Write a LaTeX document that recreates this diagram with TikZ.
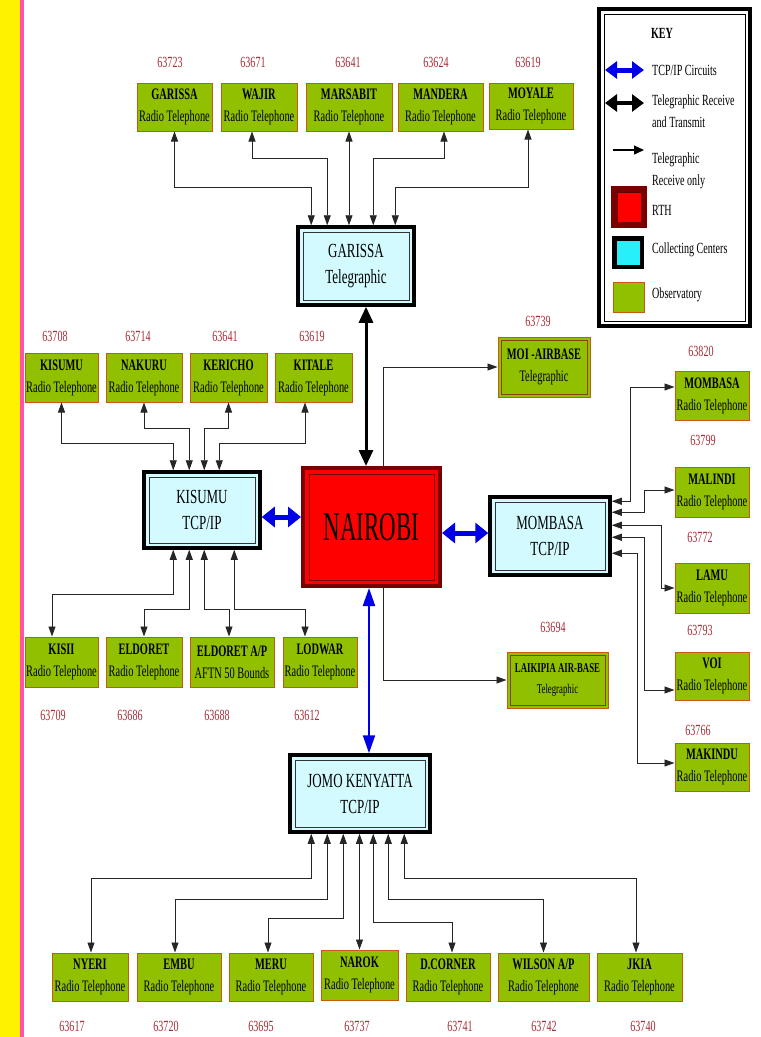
\documentclass[tikz,border=0pt]{standalone}
\usepackage{fontspec}
\setmainfont{Liberation Serif}
\newfontfamily\cond[FakeStretch=0.65]{Liberation Serif}
\newfontfamily\condN[FakeStretch=0.56]{Liberation Serif}
\usetikzlibrary{arrows.meta,calc}
\definecolor{obsgreen}{RGB}{145,192,0}
\definecolor{obsborder}{RGB}{200,90,20}
\definecolor{ccfill}{RGB}{210,250,255}
\definecolor{cckey}{RGB}{40,240,250}
\definecolor{rthdark}{RGB}{120,0,0}
\definecolor{labred}{RGB}{165,45,55}
\definecolor{linkblue}{RGB}{0,0,230}
\definecolor{pinkline}{RGB}{255,80,170}
\tikzset{
  obs/.style={draw=obsborder, fill=obsgreen, line width=1pt, inner sep=0pt, align=center,
    font=\cond\fontsize{16}{22}\selectfont},
  obsdbl/.style={obs, path picture={\draw[obsborder!70!black, line width=0.7pt]
    ([shift={(3pt,-3pt)}]path picture bounding box.north west) rectangle
    ([shift={(-3pt,3pt)}]path picture bounding box.south east);}},
  cc/.style={draw=black, fill=ccfill, line width=3.5pt, inner sep=0pt, align=center,
    font=\cond\fontsize{20}{26}\selectfont,
    path picture={\draw[black!80, line width=0.8pt]
    ([shift={(5pt,-5pt)}]path picture bounding box.north west) rectangle
    ([shift={(-5pt,5pt)}]path picture bounding box.south east);}},
  rth/.style={draw=rthdark, fill=red, line width=4pt, inner sep=0pt, align=center,
    path picture={\draw[rthdark, line width=1pt]
    ([shift={(6pt,-6pt)}]path picture bounding box.north west) rectangle
    ([shift={(-6pt,6pt)}]path picture bounding box.south east);}},
  lab/.style={text=labred, inner sep=0pt, font=\cond\fontsize{15.5}{17}\selectfont},
  keytext/.style={inner sep=0pt, anchor=west, align=left, font=\cond\fontsize{15.5}{22}\selectfont},
  conn/.style={draw=black!85, line width=0.9pt},
  both/.style={conn, {Triangle[length=10pt,width=7pt]}-{Triangle[length=10pt,width=7pt]}},
  recv/.style={conn, -{Triangle[length=10pt,width=7pt]}},
  bluethick/.style={draw=linkblue, line width=5pt, {Triangle[length=13pt,width=20pt]}-{Triangle[length=13pt,width=20pt]}},
  bluethin/.style={draw=linkblue, line width=2pt, {Triangle[length=18pt,width=12pt]}-{Triangle[length=18pt,width=12pt]}},
  blackthick/.style={draw=black, line width=3pt, {Triangle[length=16pt,width=14pt]}-{Triangle[length=16pt,width=14pt]}},
}
\begin{document}
\begin{tikzpicture}[x=1pt,y=-1pt]
\useasboundingbox (0,0) rectangle (761,1037);
\fill[white] (0,0) rectangle (761,1037);
\fill[yellow] (0,0) rectangle (20,1037);
\fill[pinkline] (20,0) rectangle (24,1037);

% ---------- top row (Garissa collecting) ----------
\node[obs, minimum width=75pt, minimum height=48pt] (garR) at (174.5,107) {\textbf{GARISSA}\\Radio Telephone};
\node[obs, minimum width=76pt, minimum height=48pt] (wajR) at (259,107) {\textbf{WAJIR}\\Radio Telephone};
\node[obs, minimum width=86pt, minimum height=48pt] (marR) at (349,107) {\textbf{MARSABIT}\\Radio Telephone};
\node[obs, minimum width=85pt, minimum height=48pt] (manR) at (440.5,107) {\textbf{MANDERA}\\Radio Telephone};
\node[obs, minimum width=84pt, minimum height=46pt] (moyR) at (531,106) {\textbf{MOYALE}\\Radio Telephone};
\node[lab] (l63723) at (170,62) {63723};
\node[lab] (l63671) at (253,62) {63671};
\node[lab] (l63641a) at (348,62) {63641};
\node[lab] (l63624) at (436,62) {63624};
\node[lab] (l63619a) at (528,62) {63619};

\node[cc, minimum width=116pt, minimum height=78pt] (garT) at (356,266) {GARISSA\\Telegraphic};

\draw[both] (garR.south) -- ++(0,56) -| ([xshift=15pt]garT.north west);
\draw[both] ([xshift=-7pt]wajR.south) -- ++(0,27) -| ([xshift=31pt]garT.north west);
\draw[both] (marR.south) -- (marR.south |- garT.north);
\draw[both] ([xshift=3.5pt]manR.south) -- ++(0,27) -| ([xshift=77pt]garT.north west);
\draw[both] ([xshift=-3pt]moyR.south) -- ++(0,58) -| ([xshift=99pt]garT.north west);

% ---------- Nairobi ----------
\node[rth, minimum width=137pt, minimum height=118pt, font=\condN\fontsize{41}{44}\selectfont] (nai) at (371.5,527) {NAIROBI};
\draw[blackthick] ([xshift=10pt]garT.south) -- ([xshift=10pt]garT.south |- nai.north);

% MOI airbase
\node[obsdbl, minimum width=92pt, minimum height=60pt] (moi) at (544,367) {\textbf{MOI -AIRBASE}\\Telegraphic};
\node[lab] (l63739) at (538,321) {63739};
\draw[recv] ([xshift=11.5pt]nai.north) |- (moi.west);

% Laikipia
\node[obsdbl, minimum width=101pt, minimum height=56pt, font=\cond\fontsize{13.5}{21}\selectfont] (laik) at (557.5,680) {\textbf{LAIKIPIA AIR-BASE}\\Telegraphic};
\node[lab] (l63694) at (553,627) {63694};
\draw[recv] ([xshift=11.5pt]nai.south) |- (laik.west);

% ---------- Kisumu ----------
\node[cc, minimum width=116pt, minimum height=76pt] (kisT) at (202,510) {KISUMU\\TCP/IP};
\draw[bluethick] ([yshift=-7pt]kisT.east) -- ([yshift=-7pt]kisT.east -| nai.west);

\node[obs, minimum width=73pt, minimum height=49pt] (kisR) at (61.5,377.5) {\textbf{KISUMU}\\Radio Telephone};
\node[obs, minimum width=76pt, minimum height=49pt] (nakR) at (144,377.5) {\textbf{NAKURU}\\Radio Telephone};
\node[obs, minimum width=77pt, minimum height=49pt] (kerR) at (228.5,377.5) {\textbf{KERICHO}\\Radio Telephone};
\node[obs, minimum width=77pt, minimum height=49pt] (kitR) at (313.5,377.5) {\textbf{KITALE}\\Radio Telephone};
\node[lab] (l63708) at (55,336) {63708};
\node[lab] (l63714) at (138,336) {63714};
\node[lab] (l63641b) at (225,336) {63641};
\node[lab] (l63619b) at (312,336) {63619};

\draw[both] (kisR.south) -- ++(0,41) -| ([xshift=31pt]kisT.north west);
\draw[both] (nakR.south) -- ++(0,26) -| ([xshift=47pt]kisT.north west);
\draw[both] (kerR.south) -- ++(0,26) -| ([xshift=62pt]kisT.north west);
\draw[both] ([xshift=-8.5pt]kitR.south) -- ++(0,41) -| ([xshift=77pt]kisT.north west);

\node[obs, minimum width=73pt, minimum height=50pt] (kisiR) at (61.5,662) {\textbf{KISII}\\Radio Telephone};
\node[obs, minimum width=76pt, minimum height=50pt] (eldR) at (144,662) {\textbf{ELDORET}\\Radio Telephone};
\node[obs, minimum width=84pt, minimum height=50pt] (eldAP) at (232,662) {\textbf{ELDORET A/P}\\AFTN 50 Bounds};
\node[obs, minimum width=74pt, minimum height=50pt] (lodR) at (320,662) {\textbf{LODWAR}\\Radio Telephone};
\node[lab] (l63709) at (53,715) {63709};
\node[lab] (l63686) at (130,715) {63686};
\node[lab] (l63688) at (217,715) {63688};
\node[lab] (l63612) at (307,715) {63612};

\draw[both] ([xshift=31pt]kisT.south west) -- ++(0,45) -| ([xshift=-9.5pt]kisiR.north);
\draw[both] ([xshift=47pt]kisT.south west) -- ++(0,60) -| (eldR.north);
\draw[both] ([xshift=62pt]kisT.south west) -- ++(0,60) -| ([xshift=-3pt]eldAP.north);
\draw[both] ([xshift=92pt]kisT.south west) -- ++(0,60) -| ([xshift=-15pt]lodR.north);

% ---------- Mombasa ----------
\node[cc, minimum width=120pt, minimum height=78pt] (momT) at (550,536) {MOMBASA\\TCP/IP};
\draw[bluethick] ([yshift=-6pt]nai.east) -- ([yshift=-6pt]nai.east -| momT.west);

\node[obs, minimum width=74pt, minimum height=49pt] (mombR) at (712,395.5) {\textbf{MOMBASA}\\Radio Telephone};
\node[obs, minimum width=74pt, minimum height=50pt] (malR) at (712,492) {\textbf{MALINDI}\\Radio Telephone};
\node[obs, minimum width=74pt, minimum height=50pt] (lamuR) at (712,588) {\textbf{LAMU}\\Radio Telephone};
\node[obs, minimum width=74pt, minimum height=48pt] (voiR) at (712,676) {\textbf{VOI}\\Radio Telephone};
\node[obs, minimum width=74pt, minimum height=48pt] (makR) at (712,767) {\textbf{MAKINDU}\\Radio Telephone};
\node[lab] (l63820) at (701,351) {63820};
\node[lab] (l63799) at (703,440) {63799};
\node[lab] (l63772) at (700,537) {63772};
\node[lab] (l63793) at (700,630) {63793};
\node[lab] (l63766) at (698,730) {63766};

\draw[both] ([yshift=-6pt]momT.north east) -- ++(19,0) |- ([yshift=8.5pt]mombR.west);
\draw[both] ([yshift=-17pt]momT.north east) -- ++(33,0) |- ([yshift=2pt]malR.west);
\draw[both] ([yshift=-30pt]momT.north east) -- ++(50,0) |- (lamuR.west);
\draw[both] ([yshift=-42pt]momT.north east) -- ++(33,0) |- ([yshift=-14pt]voiR.west);
\draw[both] ([yshift=-58pt]momT.north east) -- ++(26,0) |- ([yshift=4pt]makR.west);

% ---------- Jomo Kenyatta ----------
\node[cc, minimum width=140pt, minimum height=77pt] (jomo) at (360,793.5) {JOMO KENYATTA\\TCP/IP};
\draw[bluethin] ([xshift=-2.5pt]nai.south) -- ([xshift=-2.5pt]nai.south |- jomo.north);

\node[obs, minimum width=76pt, minimum height=48pt] (nyeri) at (90,977) {\textbf{NYERI}\\Radio Telephone};
\node[obs, minimum width=84pt, minimum height=48pt] (embu) at (179,977) {\textbf{EMBU}\\Radio Telephone};
\node[obs, minimum width=84pt, minimum height=48pt] (meru) at (271,977) {\textbf{MERU}\\Radio Telephone};
\node[obs, minimum width=77pt, minimum height=50pt] (narok) at (359.5,975) {\textbf{NAROK}\\Radio Telephone};
\node[obs, minimum width=84pt, minimum height=48pt] (dcor) at (448,977) {\textbf{D.CORNER}\\Radio Telephone};
\node[obs, minimum width=91pt, minimum height=48pt] (wil) at (543.5,977) {\textbf{WILSON A/P}\\Radio Telephone};
\node[obs, minimum width=85pt, minimum height=48pt] (jkia) at (639.5,977) {\textbf{JKIA}\\Radio Telephone};
\node[lab] (l63617) at (72,1026) {63617};
\node[lab] (l63720) at (166,1026) {63720};
\node[lab] (l63695) at (261,1026) {63695};
\node[lab] (l63737) at (357,1026) {63737};
\node[lab] (l63741) at (460,1026) {63741};
\node[lab] (l63742) at (544,1026) {63742};
\node[lab] (l63740) at (643,1026) {63740};

\draw[both] ([xshift=23pt]jomo.south west) -- ++(0,45) -| ([xshift=1pt]nyeri.north);
\draw[both] ([xshift=39pt]jomo.south west) -- ++(0,66) -| ([xshift=-4pt]embu.north);
\draw[both] ([xshift=55pt]jomo.south west) -- ++(0,85) -| ([xshift=-3pt]meru.north);
\draw[both] (narok.north |- jomo.south) -- (narok.north);
\draw[both] ([xshift=85pt]jomo.south west) -- ++(0,89) -| ([xshift=4pt]dcor.north);
\draw[both] ([xshift=100pt]jomo.south west) -- ++(0,66) -| (wil.north);
\draw[both] ([xshift=116pt]jomo.south west) -- ++(0,45) -| ([xshift=-3.5pt]jkia.north);

% ---------- Key ----------
\node[draw=black, line width=3.5pt, minimum width=151pt, minimum height=317pt, inner sep=0pt] (keybox) at (674.5,167.5) {};
\node[draw=black, line width=0.8pt, minimum width=141pt, minimum height=307pt, inner sep=0pt] (keyinner) at (674.5,167.5) {};
\node[inner sep=0pt, font=\cond\bfseries\fontsize{15.5}{17}\selectfont] (keytitle) at (662,33) {KEY};
\coordinate (kb1) at (605,70); \coordinate (kb2) at (644,70);
\draw[draw=linkblue, line width=5pt, {Triangle[length=12pt,width=17pt]}-{Triangle[length=12pt,width=17pt]}] (kb1) -- (kb2);
\node[keytext] (kt1) at (652,70) {TCP/IP Circuits};
\coordinate (kk1) at (605,103); \coordinate (kk2) at (644,103);
\draw[draw=black, line width=4pt, {Triangle[length=12pt,width=17pt]}-{Triangle[length=12pt,width=17pt]}] (kk1) -- (kk2);
\node[keytext] (kt2) at (652,111) {Telegraphic Receive\\and Transmit};
\coordinate (kr1) at (613,150); \coordinate (kr2) at (644,150);
\draw[draw=black, line width=1.2pt, -{Triangle[length=10pt,width=9pt]}] (kr1) -- (kr2);
\node[keytext] (kt3) at (652,171) {Telegraphic\\Receive only};
\node[draw=rthdark, fill=red, line width=6pt, minimum width=30pt, minimum height=36pt, inner sep=0pt,
  path picture={\draw[rthdark!80!black, line width=0.8pt]
    ([shift={(3pt,-3pt)}]path picture bounding box.north west) rectangle
    ([shift={(-3pt,3pt)}]path picture bounding box.south east);}] (krth) at (629,207) {};
\node[keytext] (kt4) at (652,210) {RTH};
\node[draw=black, fill=cckey, line width=4pt, minimum width=28pt, minimum height=29pt, inner sep=0pt,
  path picture={\draw[black, line width=0.6pt]
    ([shift={(2pt,-2pt)}]path picture bounding box.north west) rectangle
    ([shift={(-2pt,2pt)}]path picture bounding box.south east);}] (kcc) at (628,252.5) {};
\node[keytext] (kt5) at (652,250) {Collecting Centers};
\node[draw=obsborder, fill=obsgreen, line width=1pt, minimum width=31pt, minimum height=30pt, inner sep=0pt] (kobs) at (628.5,297) {};
\node[keytext] (kt6) at (652,295) {Observatory};
\end{tikzpicture}
\end{document}
